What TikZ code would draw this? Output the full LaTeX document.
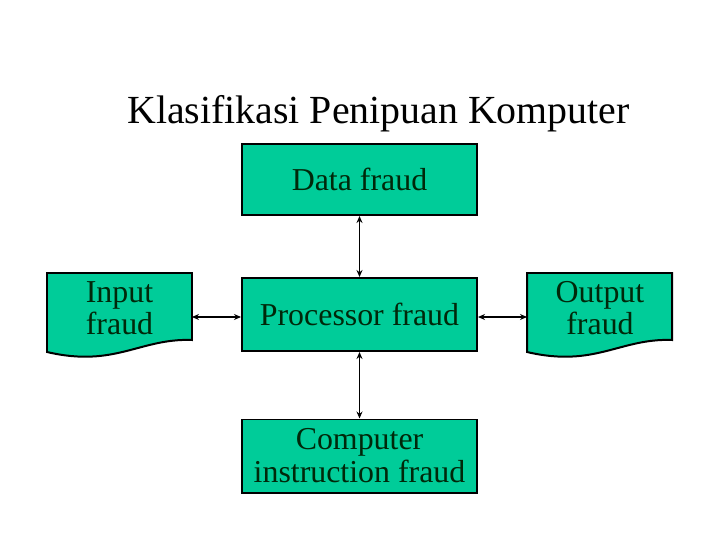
\documentclass[tikz,border=0pt]{standalone}
\usepackage{fontspec}
\setmainfont{Liberation Serif}
\usetikzlibrary{arrows.meta}
\definecolor{boxfill}{RGB}{0,204,153}
\definecolor{boxtext}{RGB}{0,40,10}
\tikzset{
  box/.style={draw=black, line width=2pt, fill=boxfill, minimum width=235bp, inner sep=0pt,
    font=\fontsize{32}{33}\selectfont, text=boxtext, align=center},
  doctext/.style={font=\fontsize{32}{32}\selectfont, text=boxtext, align=center, inner sep=0pt},
  docshape/.style={draw=black, line width=2pt, fill=boxfill},
  conn/.style={line width=1.8pt, {Stealth[length=7pt,width=6pt]}-{Stealth[length=7pt,width=6pt]}}
}
\begin{document}
\begin{tikzpicture}[x=1bp,y=-1bp]
\useasboundingbox (0,0) rectangle (720,540);
\node[font=\fontsize{40}{40}\selectfont, anchor=base] (title) at (378.5,124) {Klasifikasi Penipuan Komputer};

\node[box, minimum height=71bp, text height=22bp, text depth=0bp] (data) at (359.5,179.5) {Data fraud};
\node[box, minimum height=73bp, text height=22bp, text depth=0bp] (proc) at (359.5,314.5) {Processor fraud};
\node[box, minimum height=73bp] (instr) at (359.5,456) {Computer\\instruction fraud};

% document shapes
\coordinate (inNW) at (47,273);
\coordinate (inNE) at (192,273);
\draw[docshape] (inNW) -- (inNE) -- (192,340) .. controls (140,338) and (115,368) .. (47,352) -- cycle;
\node[doctext] (inp) at (119.5,308) {Input\\fraud};
\coordinate (inE) at (192,317);

\coordinate (outNW) at (527,273);
\coordinate (outNE) at (672,273);
\draw[docshape] (outNW) -- (outNE) -- (672,340) .. controls (620,338) and (595,368) .. (527,352) -- cycle;
\node[doctext] (outp) at (600,308) {Output\\fraud};
\coordinate (outW) at (527,317);

\draw[conn] (data.south) -- (proc.north);
\draw[conn] (proc.south) -- (instr.north);
\draw[conn] (inE) -- (proc.west |- inE);
\draw[conn] (proc.east |- outW) -- (outW);
\end{tikzpicture}
\end{document}
